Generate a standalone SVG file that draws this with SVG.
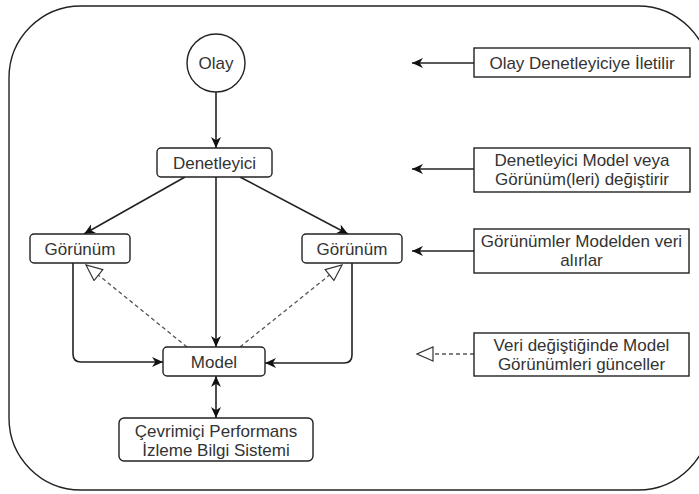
<svg xmlns="http://www.w3.org/2000/svg" width="699" height="494" viewBox="0 0 699 494">
<style>
.box{fill:#fff;stroke:#222;stroke-width:1.4}
.t{font-family:"Liberation Sans",Arial,sans-serif;font-size:17px;fill:#333;text-anchor:middle}
.c{fill:none;stroke:#222;stroke-width:1.6}
.d{fill:none;stroke:#555;stroke-width:1.3;stroke-dasharray:4 3}
</style>
<defs>
<marker id="a" viewBox="0 0 10 10" refX="10" refY="5" markerWidth="11" markerHeight="11" markerUnits="userSpaceOnUse" orient="auto-start-reverse">
<path d="M0,0.5 L10,5 L0,9.5 L3,5 Z" fill="#111"/>
</marker>
<marker id="h" viewBox="0 0 18 16" refX="17" refY="8" markerWidth="18" markerHeight="16" markerUnits="userSpaceOnUse" orient="auto">
<path d="M1,1 L17,8 L1,15 Z" fill="#fff" stroke="#333" stroke-width="1.2"/>
</marker>
</defs>
<rect x="9" y="6" width="701" height="484" rx="72" ry="72" fill="#fff" stroke="#222" stroke-width="1.4"/>
<g id="connectors">
<line class="c" x1="216" y1="92" x2="216" y2="148" marker-end="url(#a)"/>
<line class="c" x1="185" y1="177" x2="84" y2="234" marker-end="url(#a)"/>
<line class="c" x1="240" y1="177" x2="348" y2="234" marker-end="url(#a)"/>
<line class="c" x1="216" y1="177" x2="216" y2="347" marker-end="url(#a)"/>
<path class="c" d="M73,263 L73,354 Q73,362 81,362 L163,362" marker-end="url(#a)"/>
<path class="c" d="M352,263 L352,355 Q352,363 344,363 L265,363" marker-end="url(#a)"/>
<line class="d" x1="187" y1="347" x2="86" y2="265" marker-end="url(#h)"/>
<line class="d" x1="240" y1="347" x2="342" y2="265" marker-end="url(#h)"/>
<line class="c" x1="216" y1="376" x2="216" y2="418" marker-start="url(#a)" marker-end="url(#a)"/>
<line class="c" x1="474" y1="63" x2="412" y2="63" marker-end="url(#a)"/>
<line class="c" x1="474" y1="169" x2="412" y2="169" marker-end="url(#a)"/>
<line class="c" x1="474" y1="251" x2="412" y2="251" marker-end="url(#a)"/>
<line class="d" x1="474" y1="354" x2="417" y2="354" marker-end="url(#h)"/>
</g>
<g id="olay">
<circle cx="216" cy="63" r="29" class="box"/>
<text class="t" x="216" y="69">Olay</text>
</g>
<g id="denetleyici">
<rect class="box" x="157" y="148" width="115" height="29" rx="4"/>
<text class="t" x="214.5" y="168.5">Denetleyici</text>
</g>
<g id="gorunum-left">
<rect class="box" x="30" y="234" width="100" height="29" rx="4"/>
<text class="t" x="80" y="254.5">Görünüm</text>
</g>
<g id="gorunum-right">
<rect class="box" x="302" y="234" width="100" height="29" rx="4"/>
<text class="t" x="352" y="254.5">Görünüm</text>
</g>
<g id="model">
<rect class="box" x="163" y="347" width="102" height="29" rx="4"/>
<text class="t" x="214" y="367.5">Model</text>
</g>
<g id="cevrimici">
<rect class="box" x="119" y="418" width="194" height="43" rx="5"/>
<text class="t" x="216" y="437">Çevrimiçi Performans</text>
<text class="t" x="216" y="456">İzleme Bilgi Sistemi</text>
</g>
<g id="label1">
<rect class="box" x="474" y="48" width="216" height="29"/>
<text class="t" x="582" y="68.5">Olay Denetleyiciye İletilir</text>
</g>
<g id="label2">
<rect class="box" x="474" y="148" width="216" height="44"/>
<text class="t" x="582" y="166">Denetleyici Model veya</text>
<text class="t" x="582" y="185">Görünüm(leri) değiştirir</text>
</g>
<g id="label3">
<rect class="box" x="474" y="229" width="215" height="44"/>
<text class="t" x="581.5" y="247">Görünümler Modelden veri</text>
<text class="t" x="581.5" y="266">alırlar</text>
</g>
<g id="label4">
<rect class="box" x="474" y="333" width="215" height="43"/>
<text class="t" x="581.5" y="351">Veri değiştiğinde Model</text>
<text class="t" x="581.5" y="370">Görünümleri günceller</text>
</g>
</svg>
